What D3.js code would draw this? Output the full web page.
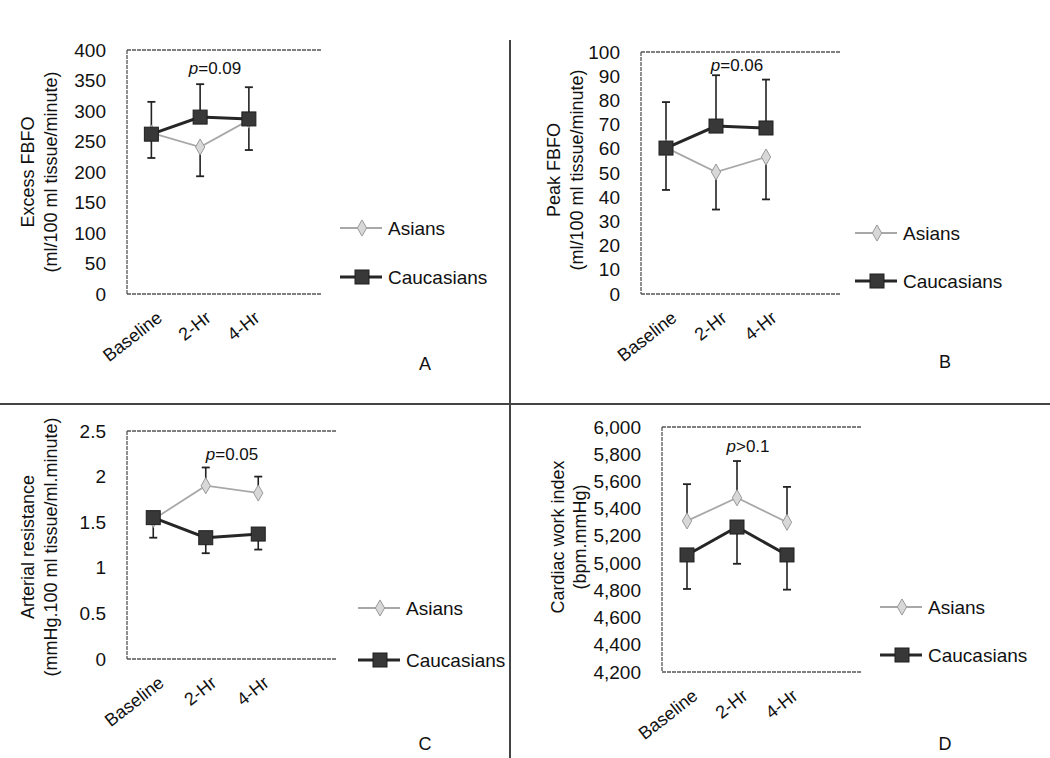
<!DOCTYPE html>
<html><head><meta charset="utf-8">
<script src="https://cdn.jsdelivr.net/npm/d3@7"></script>
<style>
body{margin:0;background:#fff;}
svg text{font-family:"Liberation Sans",Arial,sans-serif;fill:#111;}
</style></head>
<body><svg id="c" width="1050" height="758"></svg>
<script>
// ---------- data ----------
const categories = ["Baseline","2-Hr","4-Hr"];
const seriesNames = ["Asians","Caucasians"];
const panelLetters = ["A","B","C","D"];
const pLabels = [["p","=0.09"],["p","=0.06"],["p","=0.05"],["p",">0.1"]];
const yTitle1 = ["Excess FBFO","Peak FBFO","Arterial resistance","Cardiac work index"];
const yTitle2 = ["(ml/100 ml tissue/minute)","(ml/100 ml tissue/minute)","(mmHg.100 ml tissue/ml.minute)","(bpm.mmHg)"];
const yTicksA = [0,50,100,150,200,250,300,350,400];
const yTicksB = [0,10,20,30,40,50,60,70,80,90,100];
const yTicksC = [0,0.5,1,1.5,2,2.5];
const yTicksD = [4200,4400,4600,4800,5000,5200,5400,5600,5800,6000];
// means
const asiansA = [264,241,285], caucA = [262,290,287];
const asiansB = [60.5,50.4,56.6], caucB = [60.3,69.4,68.6];
const asiansC = [1.53,1.90,1.82], caucC = [1.55,1.33,1.37];
const asiansD = [5310,5480,5300], caucD = [5060,5265,5060];
// one-sided SD error bars
const asiansErrA = [41,48,49], caucErrA = [53,54,52];
const asiansErrB = [17.5,15.5,17.5], caucErrB = [19,21,20];
const asiansErrC = [0.05,0.20,0.18], caucErrC = [0.22,0.17,0.17];
const asiansErrD = [270,270,260], caucErrD = [250,270,255];
// error bar direction (+1 up, -1 down)
const asiansErrDir = [-1,-1,1,1], caucErrDir = [1,1,-1,-1];

// ---------- layout ----------
const svg = d3.select("#c");
const panels = [
  {x0:127,x1:322,y0:50,y1:294,ticks:yTicksA,fmt:d=>d,asian:asiansA,cauc:caucA,aErr:asiansErrA,cErr:caucErrA,
   t1x:34,t2x:57,ty:172,px:215,py:74,legX:340,legY:[228,277],letter:[425,370]},
  {x0:641,x1:841,y0:52,y1:294,ticks:yTicksB,fmt:d=>d,asian:asiansB,cauc:caucB,aErr:asiansErrB,cErr:caucErrB,
   t1x:560,t2x:583,ty:170,px:737,py:71,legX:855,legY:[233,281],letter:[945,368]},
  {x0:127,x1:337,y0:431,y1:659,ticks:yTicksC,fmt:d=>d,asian:asiansC,cauc:caucC,aErr:asiansErrC,cErr:caucErrC,
   t1x:34,t2x:57,ty:547,px:232,py:460,legX:358,legY:[608,660],letter:[425,750]},
  {x0:662,x1:862,y0:427,y1:672,ticks:yTicksD,fmt:d3.format(","),asian:asiansD,cauc:caucD,aErr:asiansErrD,cErr:caucErrD,
   t1x:564,t2x:586,ty:537,px:748,py:452,legX:880,legY:[607,655],letter:[945,750]}
];

// dividers
svg.append("line").attr("x1",0).attr("x2",1050).attr("y1",404).attr("y2",404).attr("stroke","#444").attr("stroke-width",2);
svg.append("line").attr("x1",510).attr("x2",510).attr("y1",40).attr("y2",758).attr("stroke","#444").attr("stroke-width",2);

const asianColor = "#a8a8a8", asianFill = "#d8d8d8", caucColor = "#262626";
const diamond = d3.symbol().type(d3.symbolDiamond).size(75);
const FS = "19px";

panels.forEach((p,i)=>{
  const g = svg.append("g");
  const x = d3.scaleBand().domain(categories.concat([" "])).range([p.x0,p.x1]);
  const y = d3.scaleLinear().domain(d3.extent(p.ticks)).range([p.y1,p.y0]);
  const cx = c => x(c)+x.bandwidth()/2;

  // frame (left, top, bottom)
  const fr = g.append("g").attr("stroke","#555").attr("stroke-width",1.3).attr("stroke-dasharray","4,1");
  fr.append("line").attr("x1",p.x0).attr("x2",p.x1).attr("y1",p.y0).attr("y2",p.y0);
  fr.append("line").attr("x1",p.x0).attr("x2",p.x1).attr("y1",p.y1).attr("y2",p.y1);
  fr.append("line").attr("x1",p.x0).attr("x2",p.x0).attr("y1",p.y0).attr("y2",p.y1);

  // y axis
  const ya = g.append("g").attr("transform",`translate(${p.x0},0)`)
    .call(d3.axisLeft(y).tickValues(p.ticks).tickFormat(p.fmt).tickSize(0).tickPadding(21));
  ya.select(".domain").remove();
  ya.selectAll("text").style("font-size",FS).style("font-family","Liberation Sans, Arial, sans-serif").attr("fill","#111");

  // x axis labels
  const xa = g.append("g").attr("transform",`translate(0,${p.y1})`)
    .call(d3.axisBottom(x).tickValues(categories).tickSize(0).tickPadding(0));
  xa.select(".domain").remove();
  xa.selectAll("text").style("font-size","18px").style("font-family","Liberation Sans, Arial, sans-serif").attr("fill","#111")
    .attr("text-anchor","end").attr("dy",0)
    .attr("transform","translate(12,26) rotate(-38)");

  // y titles
  g.append("text").attr("transform",`translate(${p.t1x},${p.ty}) rotate(-90)`).attr("text-anchor","middle")
    .style("font-size","18px").text(yTitle1[i]);
  g.append("text").attr("transform",`translate(${p.t2x},${p.ty}) rotate(-90)`).attr("text-anchor","middle")
    .style("font-size","18px").text(yTitle2[i]);

  // p value
  const pt = g.append("text").attr("x",p.px).attr("y",p.py).attr("text-anchor","middle").style("font-size","17px");
  pt.append("tspan").style("font-style","italic").text(pLabels[i][0]);
  pt.append("tspan").text(pLabels[i][1]);

  // error bars
  const eb = (vals,errs,dir,color)=>{
    categories.forEach((c,k)=>{
      const yEnd = y(vals[k]+dir*errs[k]);
      g.append("line").attr("x1",cx(c)).attr("x2",cx(c)).attr("y1",y(vals[k])).attr("y2",yEnd).attr("stroke",color).attr("stroke-width",1.6);
      g.append("line").attr("x1",cx(c)-4).attr("x2",cx(c)+4).attr("y1",yEnd).attr("y2",yEnd).attr("stroke",color).attr("stroke-width",1.8);
    });
  };
  eb(p.asian,p.aErr,asiansErrDir[i],"#222");
  eb(p.cauc,p.cErr,caucErrDir[i],"#222");

  const line = d3.line().x((d,k)=>cx(categories[k])).y(d=>y(d));
  // Asians
  g.append("path").datum(p.asian).attr("d",line).attr("fill","none").attr("stroke",asianColor).attr("stroke-width",1.8);
  g.selectAll(null).data(p.asian).enter().append("path").attr("d",diamond)
    .attr("transform",(d,k)=>`translate(${cx(categories[k])},${y(d)})`)
    .attr("fill",asianFill).attr("stroke","#999").attr("stroke-width",1);
  // Caucasians
  g.append("path").datum(p.cauc).attr("d",line).attr("fill","none").attr("stroke",caucColor).attr("stroke-width",3);
  g.selectAll(null).data(p.cauc).enter().append("rect")
    .attr("x",(d,k)=>cx(categories[k])-7).attr("y",d=>y(d)-7).attr("width",14).attr("height",14)
    .attr("fill","#383838").attr("stroke","#1e1e1e").attr("stroke-width",1);

  // legend
  seriesNames.forEach((s,j)=>{
    const ly = p.legY[j];
    const lx0 = p.legX, lx1 = p.legX+42, mx = p.legX+22;
    g.append("line").attr("x1",lx0).attr("x2",lx1).attr("y1",ly).attr("y2",ly)
      .attr("stroke",j===0?asianColor:caucColor).attr("stroke-width",j===0?1.8:3);
    if(j===0){
      g.append("path").attr("d",diamond).attr("transform",`translate(${mx},${ly})`).attr("fill",asianFill).attr("stroke","#999");
    } else {
      g.append("rect").attr("x",mx-7).attr("y",ly-7).attr("width",14).attr("height",14).attr("fill","#383838").attr("stroke","#1e1e1e");
    }
    g.append("text").attr("x",lx1+6).attr("y",ly).attr("dy","0.35em").style("font-size",FS).text(s);
  });

  // panel letter
  g.append("text").attr("x",p.letter[0]).attr("y",p.letter[1]).attr("text-anchor","middle").style("font-size","18px").text(panelLetters[i]);
});
</script></body></html>
